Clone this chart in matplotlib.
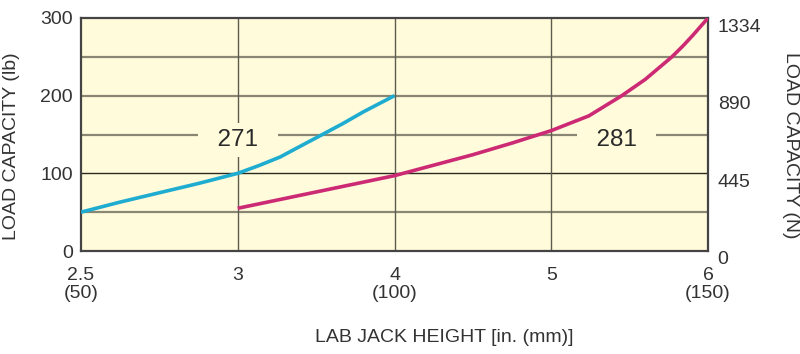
import numpy as np
import matplotlib
matplotlib.use("Agg")
import matplotlib.pyplot as plt
import matplotlib.transforms as mtransforms

plt.rcParams['font.family'] = ['Liberation Sans', 'DejaVu Sans']

# x ticks (inches) and their labels
x_ticks = [2.5, 3, 4, 5, 6]
x_labels = ["2.5\n(50)", "3", "4\n(100)", "5", "6\n(150)"]

# model 271
h_271 = [2.5, 2.625, 2.75, 2.875, 3.0, 3.135, 3.27, 3.4, 3.54, 3.67, 3.8, 4.0]
lb_271 = [50, 63, 75, 87, 100, 110, 121, 135, 150, 164, 179, 200]

# model 281
h_281 = [3.0, 3.5, 4.0, 4.5, 4.75, 5.0, 5.24, 5.45, 5.6, 5.77, 5.84, 5.9, 6.0]
lb_281 = [55, 76, 97, 124, 139, 155, 174, 200, 221, 250, 264, 277, 300]

n_ticks = [0, 445, 890, 1334]
LB_TO_N = 4.448

# axis spacing is even per tick, not linear in inches
pos = np.arange(len(x_ticks))
def fwd(x):
    return np.interp(x, x_ticks, pos)
def inv(p):
    return np.interp(p, pos, x_ticks)

fig = plt.figure(figsize=(8, 3.54), dpi=100)
ax = fig.add_axes([81/800, 1 - 251/354, 627/800, 233/354])
ax.set_facecolor('#fffbdb')
ax.set_xscale('function', functions=(fwd, inv))
ax.set_xlim(2.5, 6)
ax.set_ylim(0, 300)

for y in [50, 150, 200, 250]:
    ax.axhline(y, color='#8a8674', lw=1.6, zorder=1)
ax.axhline(100, color='#2a2a22', lw=1.0, zorder=1)
for x in [3, 4, 5]:
    ax.axvline(x, color='#5e5c50', lw=1.0, zorder=1)

ax.plot(h_271, lb_271, color='#1eacd0', lw=2.6, zorder=3, solid_capstyle='butt')
ax.plot(h_281, lb_281, color='#cc2a74', lw=2.6, zorder=3, solid_capstyle='butt')

box = dict(facecolor='#fffbdb', edgecolor='none', boxstyle='square,pad=0.25')
ax.text(3, 143, "  271  ", fontsize=17.5, color='#2a2a2a', ha='center', va='center',
        zorder=2, bbox=box)
ax.text(5.416, 143, "  281  ", fontsize=17.5, color='#2a2a2a', ha='center', va='center',
        zorder=2, bbox=box)

ax.set_xticks(x_ticks)
ax.set_xticklabels(x_labels, fontsize=14, color='#333333', linespacing=1.1, va='top')
ax.set_yticks([0, 100, 200, 300])
ax.tick_params(axis='both', length=0, labelsize=14, labelcolor='#333333')
ax.tick_params(axis='x', pad=11.5)
ax.tick_params(axis='y', pad=6)
for s in ax.spines.values():
    s.set_color('#444444')
    s.set_linewidth(1.6)

ax2 = ax.twinx()
ax2.set_ylim(0, 300 * LB_TO_N)
ax2.set_yticks(n_ticks)
ax2.tick_params(axis='y', length=0, labelsize=14, labelcolor='#333333', pad=7)
offset = mtransforms.ScaledTranslation(0, -7/100, fig.dpi_scale_trans)
for lab in ax2.get_yticklabels():
    lab.set_transform(lab.get_transform() + offset)
for s in ax2.spines.values():
    s.set_visible(False)

fig.text(12/800, 1 - 146/354, "LOAD CAPACITY (lb)", rotation=90, fontsize=14,
         color='#333333', ha='center', va='center')
fig.text(790/800, 1 - 145/354, "LOAD CAPACITY (N)", rotation=270, fontsize=14,
         color='#333333', ha='center', va='center')
fig.text(444/800, 1 - 337/354, "LAB JACK HEIGHT [in. (mm)]", fontsize=14,
         color='#333333', ha='center', va='center')

fig.savefig("out.png", dpi=100)
